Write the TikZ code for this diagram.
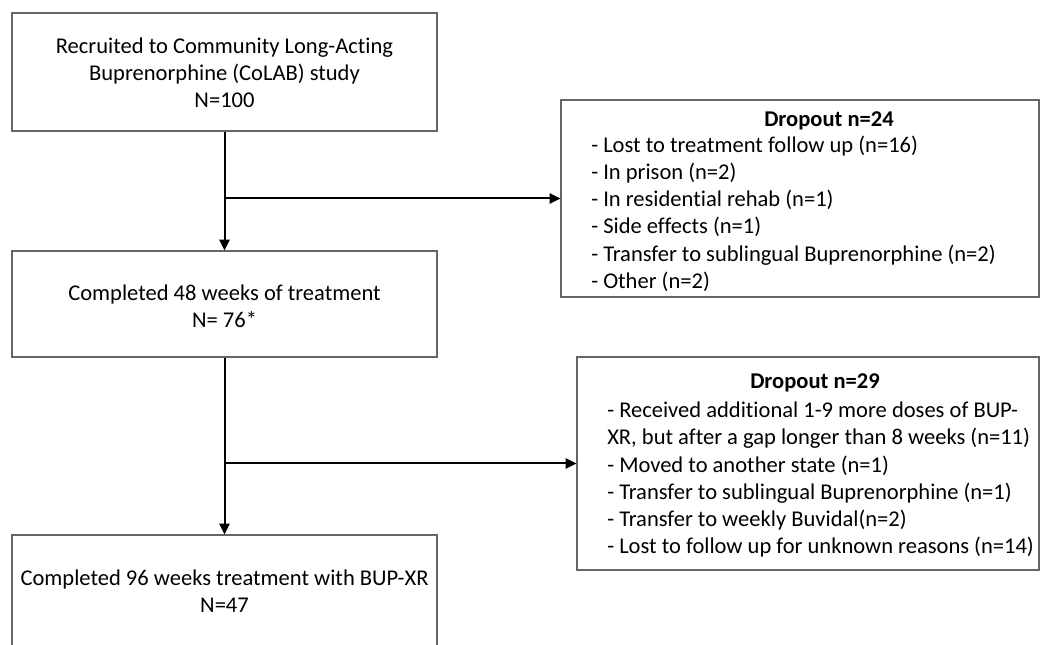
\documentclass[tikz,border=0pt]{standalone}
\usepackage{fontspec}
\setmainfont{Carlito}[Ligatures={NoCommon}]
\usetikzlibrary{arrows.meta}
\tikzset{
  box/.style={draw=black!60, line width=0.9pt, inner sep=0pt, align=center},
  txt/.style={inner sep=0pt, font=\fontsize{16.9}{20.3}\selectfont},
  arr/.style={line width=1.5pt, -{Triangle[length=8pt,width=7.5pt]}}
}
\begin{document}
\begin{tikzpicture}[x=0.75pt,y=-0.75pt]
\useasboundingbox (0,0) rectangle (1040,645);
\node[box, minimum width=318.75pt, minimum height=88.5pt] (b1) at (224.5,72) {};
\node[txt, align=center] (t1) at (224.5,73) {Recruited to Community Long-Acting\\Buprenorphine (CoLAB) study\\N=100};
\node[box, minimum width=318.75pt, minimum height=79.5pt] (b2) at (224.5,304) {};
\node[txt, align=center] (t2) at (224.5,306) {Completed 48 weeks of treatment\\N= 76*};
\node[box, minimum width=318.75pt, minimum height=84pt] (b3) at (224.5,591) {};
\node[txt, align=center] (t3) at (224.5,591.5) {Completed 96 weeks treatment with BUP-XR\\N=47};
\node[box, minimum width=358.5pt, minimum height=147.75pt] (d1) at (800,198.5) {};
\node[txt, font=\fontsize{16.9}{20.3}\selectfont\bfseries] (h1) at (829,120.5) {Dropout n=24};
\node[txt, align=left, anchor=north west] (l1) at (591,136) {- Lost to treatment follow up (n=16)\\- In prison (n=2)\\- In residential rehab (n=1)\\- Side effects (n=1)\\- Transfer to sublingual Buprenorphine (n=2)\\- Other (n=2)};
\node[box, minimum width=346.5pt, minimum height=159.75pt] (d2) at (808,463.5) {};
\node[txt, font=\fontsize{16.9}{20.3}\selectfont\bfseries] (h2) at (815,383) {Dropout n=29};
\node[txt, align=left, anchor=north west] (l2) at (607,402) {- Received additional 1-9 more doses of BUP-\\XR, but after a gap longer than 8 weeks (n=11)\\- Moved to another state (n=1)\\- Transfer to sublingual Buprenorphine (n=1)\\- Transfer to weekly Buvidal(n=2)\\- Lost to follow up for unknown reasons (n=14)};
\draw[arr] (b1.south) -- (b2.north);
\coordinate (j1) at (b1.south |- d1.west);
\draw[arr] (j1) -- (d1.west);
\draw[arr] (b2.south) -- (b3.north);
\coordinate (j2) at (b2.south |- d2.west);
\draw[arr] (j2) -- (d2.west);
\end{tikzpicture}
\end{document}
